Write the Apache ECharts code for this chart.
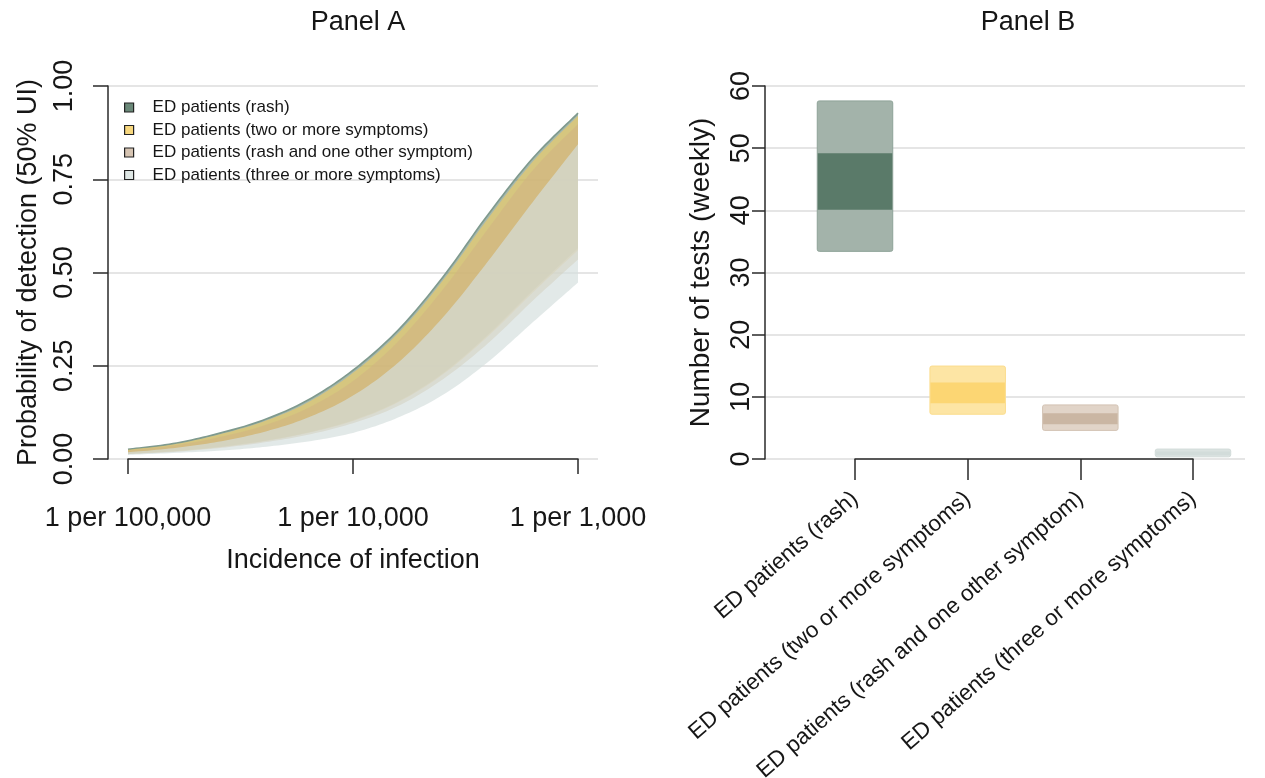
<!DOCTYPE html>
<html><head><meta charset="utf-8">
<script src="https://cdn.jsdelivr.net/npm/echarts@6/dist/echarts.min.js"></script>
<style>html,body{margin:0;padding:0;background:#fff}#c{width:1265px;height:778px}</style>
</head><body><div id="c"></div>
<script>
// ---------- Panel A data ----------
const incidence = [1e-5, 1.585e-5, 2.512e-5, 3.981e-5, 6.31e-5, 1e-4, 1.585e-4, 2.512e-4, 3.981e-4, 6.31e-4, 1e-3];
const xTickValues = [1e-5, 1e-4, 1e-3];
const xTickLabels = ['1 per 100,000', '1 per 10,000', '1 per 1,000'];
const bandNames = ['ED patients (rash)', 'ED patients (two or more symptoms)', 'ED patients (rash and one other symptom)', 'ED patients (three or more symptoms)'];
const rashLower  = [0.014, 0.021, 0.032, 0.048, 0.071, 0.104, 0.154, 0.230, 0.333, 0.452, 0.565];
const rashUpper  = [0.026, 0.041, 0.068, 0.104, 0.158, 0.238, 0.345, 0.488, 0.655, 0.807, 0.927];
const twoLower   = [0.014, 0.020, 0.031, 0.047, 0.070, 0.102, 0.152, 0.227, 0.329, 0.447, 0.560];
const twoUpper   = [0.025, 0.039, 0.065, 0.100, 0.152, 0.231, 0.337, 0.479, 0.645, 0.798, 0.920];
const roLower    = [0.013, 0.019, 0.029, 0.044, 0.065, 0.096, 0.142, 0.214, 0.310, 0.425, 0.535];
const roUpper    = [0.023, 0.036, 0.058, 0.089, 0.137, 0.209, 0.315, 0.455, 0.617, 0.775, 0.898];
const threeLower = [0.011, 0.016, 0.022, 0.032, 0.047, 0.070, 0.111, 0.172, 0.260, 0.367, 0.473];
const threeUpper = [0.018, 0.029, 0.046, 0.072, 0.111, 0.170, 0.258, 0.380, 0.530, 0.690, 0.844];

// ---------- Panel B data ----------
const panelBCategories = ['ED patients (rash)', 'ED patients (two or more symptoms)', 'ED patients (rash and one other symptom)', 'ED patients (three or more symptoms)'];
const outerLow  = [33.4, 7.2, 4.6, 0.35];
const innerLow  = [40.1, 8.95, 5.6, 0.6];
const innerHigh = [49.2, 12.3, 7.35, 1.2];
const outerHigh = [57.6, 14.95, 8.7, 1.6];

// ---------- styles ----------
const FONT = 'Liberation Sans, Arial, sans-serif';
const TXT = '#161616';
const AX = '#2a2a2a';
const GRIDC = '#dcdcdc';
const bandStyle = [
  {color: '#5b7d6c', opacity: 0.55, line: '#7f9a8e'},
  {color: '#f7cf5f', opacity: 0.6},
  {color: '#d2b384', opacity: 0.55},
  {color: '#d4dedd', opacity: 0.68}
];
const legendColors = ['#6a8878', '#f7d77e', '#d6c4b2', '#dfe7e5'];
const boxOuter  = ['#a3b3aa', '#fde5a4', '#e1d4c8', '#dae2e0'];
const boxInner  = ['#5a7a69', '#fcd673', '#cab6a3', '#d2dcda'];
const boxStroke = ['#8ea398', '#fbdc8c', '#d3c3b4', '#d3dcda'];

const bandData = [[rashLower, rashUpper], [twoLower, twoUpper], [roLower, roUpper], [threeLower, threeUpper]];

// Catmull-Rom smoothing of already-projected pixel points (rendering only)
function smoothPixels(pts, sub) {
  const out = [];
  const n = pts.length;
  for (let i = 0; i < n - 1; i++) {
    const p0 = pts[Math.max(i - 1, 0)], p1 = pts[i], p2 = pts[i + 1], p3 = pts[Math.min(i + 2, n - 1)];
    for (let s = 0; s < sub; s++) {
      const t = s / sub, t2 = t * t, t3 = t2 * t;
      const f = k => 0.5 * (2 * p1[k] + (-p0[k] + p2[k]) * t + (2 * p0[k] - 5 * p1[k] + 4 * p2[k] - p3[k]) * t2 + (-p0[k] + 3 * p1[k] - 3 * p2[k] + p3[k]) * t3);
      out.push([f(0), f(1)]);
    }
  }
  out.push(pts[n - 1]);
  return out;
}

const series = [];
bandNames.forEach((name, k) => {
  const [lo, up] = bandData[k];
  const st = bandStyle[k];
  series.push({
    name: name, type: 'custom', xAxisIndex: 1, yAxisIndex: 1, silent: true,
    itemStyle: {color: st.color},
    data: incidence.map((x, i) => [x, lo[i], up[i]]),
    encode: {x: 0, y: [1, 2]},
    renderItem(params, api) {
      if (params.dataIndex !== 0) return null;
      const upPx = smoothPixels(incidence.map((x, i) => api.coord([x, up[i]])), 12);
      const loPx = smoothPixels(incidence.map((x, i) => api.coord([x, lo[i]])), 12);
      const children = [{
        type: 'polygon', shape: {points: upPx.concat(loPx.slice().reverse())},
        style: {fill: st.color, opacity: st.opacity}
      }];
      if (st.line) children.push({
        type: 'polyline', shape: {points: upPx},
        style: {stroke: st.line, lineWidth: 1.7, fill: null}
      });
      return {type: 'group', children};
    }
  });
});

series.push({
  type: 'custom', xAxisIndex: 3, yAxisIndex: 3, silent: true,
  data: panelBCategories.map((c, i) => [i + 1, outerLow[i], innerLow[i], innerHigh[i], outerHigh[i]]),
  encode: {x: 0, y: [1, 4]},
  renderItem(params, api) {
    const x = api.value(0);
    const i = params.dataIndex;
    const lo = api.coord([x, api.value(1)]);
    const ilo = api.coord([x, api.value(2)]);
    const ihi = api.coord([x, api.value(3)]);
    const hi = api.coord([x, api.value(4)]);
    const w = api.size([1, 0])[0] * 0.67;
    return {type: 'group', children: [
      {type: 'rect', shape: {x: lo[0] - w / 2, y: hi[1], width: w, height: lo[1] - hi[1], r: 2},
       style: {fill: boxOuter[i], stroke: boxStroke[i], lineWidth: 1}},
      {type: 'rect', shape: {x: lo[0] - w / 2 + 0.5, y: ihi[1], width: w - 1, height: ilo[1] - ihi[1]},
       style: {fill: boxInner[i]}}
    ]};
  }
});

const G = {outerBoundsMode: 'none', containLabel: false};
const chart = echarts.init(document.getElementById('c'), null, {renderer: 'canvas'});
chart.setOption({
  animation: false,
  backgroundColor: '#ffffff',
  textStyle: {fontFamily: FONT, color: TXT},
  title: [
    {text: 'Panel A', left: 353, top: 4, textAlign: 'center', textStyle: {fontSize: 27, fontWeight: 'normal', color: TXT, fontFamily: FONT}},
    {text: 'Panel B', left: 1023, top: 4, textAlign: 'center', textStyle: {fontSize: 27, fontWeight: 'normal', color: TXT, fontFamily: FONT}}
  ],
  legend: {
    orient: 'vertical', left: 119, top: 94, itemWidth: 9, itemHeight: 9, itemGap: 5.5, icon: 'rect',
    selectedMode: false,
    data: bandNames.map((n, i) => ({name: n, icon: 'rect', itemStyle: {color: legendColors[i], borderColor: '#222', borderWidth: 1.2, opacity: 1}})),
    textStyle: {fontSize: 17, color: TXT, fontFamily: FONT, padding: [0, 0, 0, 14], lineHeight: 16}
  },
  grid: [
    Object.assign({left: 108, top: 86, width: 490, height: 373}, G),
    Object.assign({left: 128, top: 86, width: 450, height: 373}, G),
    Object.assign({left: 765, top: 86, width: 480, height: 373}, G),
    Object.assign({left: 855, top: 86, width: 338, height: 373}, G)
  ],
  xAxis: [
    {gridIndex: 0, type: 'value', min: 0, max: 1, show: false},
    {gridIndex: 1, type: 'log', logBase: 10, min: xTickValues[0], max: xTickValues[2], offset: 4,
     axisLine: {show: true, lineStyle: {color: AX, width: 1.5}},
     axisTick: {show: true, length: 15, lineStyle: {color: AX, width: 1.5}},
     splitLine: {show: false}, minorTick: {show: false},
     axisLabel: {fontSize: 27, color: TXT, margin: 42, fontFamily: FONT,
       formatter: v => xTickLabels[Math.round(Math.log10(v)) + 5] || ''},
     name: 'Incidence of infection', nameLocation: 'middle', nameGap: 84,
     nameTextStyle: {fontSize: 27, color: TXT, fontFamily: FONT}},
    {gridIndex: 2, type: 'value', min: 0, max: 1, show: false},
    {gridIndex: 3, type: 'value', min: 1, max: 4, interval: 1, offset: 5,
     axisLine: {show: true, lineStyle: {color: AX, width: 1.5}},
     axisTick: {show: true, length: 21, lineStyle: {color: AX, width: 1.5}},
     splitLine: {show: false},
     axisLabel: {fontSize: 22.5, color: TXT, margin: 32, rotate: 41, fontFamily: FONT,
       formatter: v => panelBCategories[Math.round(v) - 1] || ''}}
  ],
  yAxis: [
    {gridIndex: 0, type: 'value', min: 0, max: 1, interval: 0.25,
     axisLine: {show: true, lineStyle: {color: AX, width: 1.5}},
     axisTick: {show: true, length: 15, lineStyle: {color: AX, width: 1.5}},
     splitLine: {show: true, lineStyle: {color: GRIDC, width: 1.5}},
     axisLabel: {fontSize: 27, color: TXT, rotate: 90, margin: 30, fontFamily: FONT, formatter: v => v.toFixed(2)},
     name: 'Probability of detection (50% UI)', nameLocation: 'middle', nameGap: 66, nameRotate: 90,
     nameTextStyle: {fontSize: 27, color: TXT, fontFamily: FONT}},
    {gridIndex: 1, type: 'value', min: 0, max: 1, show: false},
    {gridIndex: 2, type: 'value', min: 0, max: 60, interval: 10,
     axisLine: {show: true, lineStyle: {color: AX, width: 1.5}},
     axisTick: {show: true, length: 13, lineStyle: {color: AX, width: 1.5}},
     splitLine: {show: true, lineStyle: {color: GRIDC, width: 1.5}},
     axisLabel: {fontSize: 27, color: TXT, rotate: 90, margin: 10, fontFamily: FONT},
     name: 'Number of tests (weekly)', nameLocation: 'middle', nameGap: 50, nameRotate: 90,
     nameTextStyle: {fontSize: 28, color: TXT, fontFamily: FONT}},
    {gridIndex: 3, type: 'value', min: 0, max: 60, show: false}
  ],
  series
});
</script></body></html>
